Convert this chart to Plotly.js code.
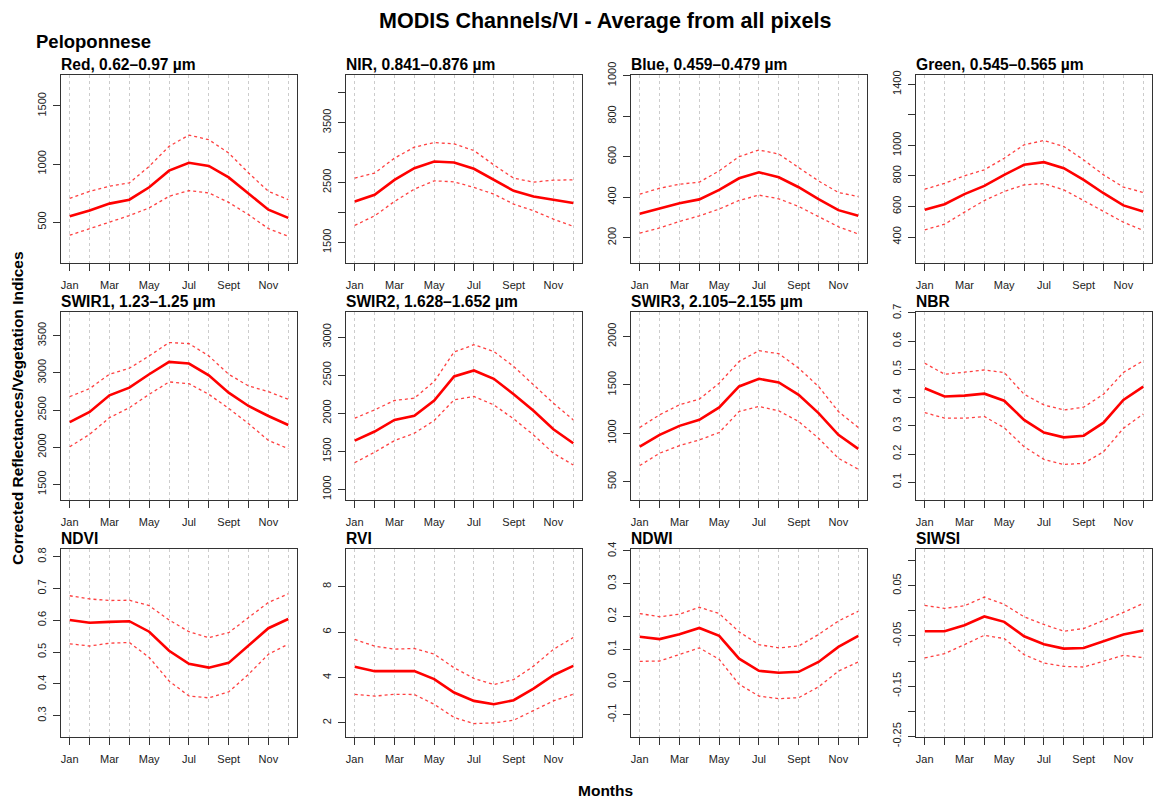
<!DOCTYPE html>
<html>
<head>
<meta charset="utf-8">
<script src="https://cdn.plot.ly/plotly-3.0.1.min.js"></script>
<style>html,body{margin:0;padding:0;background:#fff;}#chart{width:1154px;height:800px;}</style>
</head>
<body>
<div id="chart"></div>
<script>
// ---- Data ----
const months = [1,2,3,4,5,6,7,8,9,10,11,12];
const monthLabels = ['Jan','','Mar','','May','','Jul','','Sept','','Nov',''];

const panelTitles = ['Red, 0.62–0.97 µm','NIR, 0.841–0.876 µm','Blue, 0.459–0.479 µm','Green, 0.545–0.565 µm',
  'SWIR1, 1.23–1.25 µm','SWIR2, 1.628–1.652 µm','SWIR3, 2.105–2.155 µm','NBR',
  'NDVI','RVI','NDWI','SIWSI'];

const redMean  = [550,600,659,693,800,943,1011,983,885,745,607,536];
const redUpper = [705,765,808,837,980,1152,1249,1209,1095,923,765,693];
const redLower = [387,444,501,556,622,722,771,751,670,564,444,378];

const nirMean  = [2183,2294,2544,2739,2850,2833,2728,2544,2361,2267,2211,2156];
const nirUpper = [2572,2656,2906,3089,3167,3144,3033,2794,2572,2506,2539,2544];
const nirLower = [1783,1944,2183,2389,2528,2511,2417,2306,2139,2028,1889,1767];

const blueMean  = [318,343,370,389,436,493,523,498,449,390,336,308];
const blueUpper = [415,444,464,474,530,600,633,613,546,480,423,403];
const blueLower = [223,248,280,308,341,384,410,392,354,302,254,218];

const greenMean  = [578,615,681,735,807,873,890,851,774,687,607,567];
const greenUpper = [713,752,801,840,916,1004,1032,993,905,807,727,692];
const greenLower = [447,484,563,639,698,742,750,709,639,567,497,443];

const swir1Mean  = [2338,2473,2698,2801,2981,3147,3125,2967,2734,2554,2419,2298];
const swir1Upper = [2680,2788,2981,3062,3228,3408,3394,3228,2981,2824,2747,2644];
const swir1Lower = [2006,2173,2397,2531,2711,2878,2855,2711,2522,2316,2091,1979];

const swir2Mean  = [1640,1759,1912,1965,2167,2482,2561,2452,2250,2031,1789,1605];
const swir2Upper = [1934,2044,2167,2197,2417,2803,2899,2811,2614,2373,2132,1912];
const swir2Lower = [1351,1487,1640,1737,1904,2175,2219,2110,1925,1715,1474,1320];

const swir3Mean  = [862,983,1076,1138,1266,1483,1562,1524,1397,1207,983,838];
const swir3Upper = [1059,1190,1293,1352,1517,1741,1852,1821,1672,1483,1224,1059];
const swir3Lower = [666,793,872,931,1007,1224,1276,1231,1121,948,741,628];

const nbrMean  = [0.433,0.404,0.407,0.414,0.389,0.321,0.276,0.259,0.265,0.311,0.392,0.439];
const nbrUpper = [0.522,0.483,0.490,0.498,0.489,0.412,0.374,0.356,0.366,0.412,0.489,0.531];
const nbrLower = [0.347,0.327,0.327,0.333,0.293,0.226,0.181,0.163,0.167,0.208,0.291,0.342];

const ndviMean  = [0.601,0.592,0.595,0.597,0.564,0.504,0.463,0.451,0.466,0.519,0.575,0.604];
const ndviUpper = [0.677,0.667,0.662,0.663,0.646,0.601,0.564,0.545,0.561,0.608,0.656,0.683];
const ndviLower = [0.526,0.519,0.528,0.530,0.483,0.409,0.362,0.356,0.375,0.430,0.493,0.525];

const rviMean  = [4.47,4.28,4.28,4.29,3.93,3.34,2.97,2.82,3.00,3.51,4.10,4.51];
const rviUpper = [5.68,5.38,5.25,5.28,5.03,4.43,3.96,3.69,3.91,4.50,5.24,5.76];
const rviLower = [3.26,3.18,3.26,3.25,2.82,2.24,1.97,2.00,2.12,2.53,2.97,3.26];

const ndwiMean  = [0.138,0.131,0.146,0.165,0.141,0.071,0.034,0.028,0.031,0.061,0.107,0.141];
const ndwiUpper = [0.209,0.199,0.207,0.228,0.209,0.153,0.114,0.104,0.110,0.145,0.186,0.216];
const ndwiLower = [0.063,0.064,0.084,0.104,0.069,-0.007,-0.043,-0.051,-0.048,-0.015,0.033,0.061];

const siwsiMean  = [-0.0407,-0.0407,-0.0287,-0.0113,-0.022,-0.0507,-0.0667,-0.0753,-0.074,-0.0607,-0.0473,-0.0393];
const siwsiUpper = [0.0107,0.0047,0.010,0.0273,0.0127,-0.012,-0.0273,-0.0407,-0.0353,-0.020,-0.0033,0.0147];
const siwsiLower = [-0.094,-0.0853,-0.0673,-0.0487,-0.0553,-0.0873,-0.104,-0.1107,-0.112,-0.1007,-0.0887,-0.0933];

// y tick values and labels per panel
const yTickVals = [
  [500,1000,1500],
  [1500,2000,2500,3000,3500,4000],
  [200,400,600,800,1000],
  [400,600,800,1000,1200,1400],
  [1500,2000,2500,3000,3500],
  [1000,1500,2000,2500,3000],
  [500,1000,1500,2000],
  [0.1,0.2,0.3,0.4,0.5,0.6,0.7],
  [0.3,0.4,0.5,0.6,0.7,0.8],
  [2,4,6,8],
  [-0.1,0,0.1,0.2,0.3,0.4],
  [-0.25,-0.2,-0.15,-0.1,-0.05,0,0.05,0.1]
];
const yTickText = [
  ['500','1000','1500'],
  ['1500','','2500','','3500',''],
  ['200','400','600','800','1000'],
  ['400','600','800','1000','','1400'],
  ['1500','2000','2500','3000','3500'],
  ['1000','1500','2000','2500','3000'],
  ['500','1000','1500','2000'],
  ['0.1','0.2','0.3','0.4','0.5','0.6','0.7'],
  ['0.3','0.4','0.5','0.6','0.7','0.8'],
  ['2','4','6','8'],
  ['-0.1','0.0','0.1','0.2','0.3','0.4'],
  ['-0.25','','-0.15','','-0.05','','0.05','']
];

// ---- Build chart ----
const series = [
  [redMean,redUpper,redLower],[nirMean,nirUpper,nirLower],[blueMean,blueUpper,blueLower],[greenMean,greenUpper,greenLower],
  [swir1Mean,swir1Upper,swir1Lower],[swir2Mean,swir2Upper,swir2Lower],[swir3Mean,swir3Upper,swir3Lower],[nbrMean,nbrUpper,nbrLower],
  [ndviMean,ndviUpper,ndviLower],[rviMean,rviUpper,rviLower],[ndwiMean,ndwiUpper,ndwiLower],[siwsiMean,siwsiUpper,siwsiLower]
];
const yRanges = [
  [148,1766],[1156,4294],[75,1003],[230,1461],
  [1289,3819],[860,3329],[310,2252],[0.037,0.7035],
  [0.233,0.824],[1.38,9.66],[-0.168,0.406],[-0.2513,0.123]
];

const W = 1154, H = 800;
const colLeft = [61,346,631,916], panelW = 236;
const rowTop = [75,312,549], panelH = 188;
const FONT = 'Liberation Sans, Arial, sans-serif';

const traces = [];
const layout = {
  width: W, height: H,
  margin: {l:0,r:0,t:0,b:0},
  paper_bgcolor: '#fff', plot_bgcolor: '#fff',
  showlegend: false,
  font: {family: FONT, color: '#222', size: 11},
  annotations: []
};

for (let i = 0; i < 12; i++) {
  const r = Math.floor(i/4), c = i % 4;
  const n = i + 1;
  const xa = 'x' + (n === 1 ? '' : n), ya = 'y' + (n === 1 ? '' : n);
  const xkey = 'xaxis' + (n === 1 ? '' : n), ykey = 'yaxis' + (n === 1 ? '' : n);
  const [m, u, lo] = series[i];
  traces.push({x: months, y: u, xaxis: xa, yaxis: ya, mode: 'lines', line: {color: 'rgba(255,30,30,0.85)', width: 1.3, dash: 'dot'}, hoverinfo: 'skip'});
  traces.push({x: months, y: lo, xaxis: xa, yaxis: ya, mode: 'lines', line: {color: 'rgba(255,30,30,0.85)', width: 1.3, dash: 'dot'}, hoverinfo: 'skip'});
  traces.push({x: months, y: m, xaxis: xa, yaxis: ya, mode: 'lines', line: {color: '#ff0000', width: 2.6}});
  const l = colLeft[c], t = rowTop[r];
  layout[xkey] = {
    domain: [l/W, (l+panelW)/W], anchor: ya,
    range: [0.56, 12.44], tickvals: months, ticktext: monthLabels,
    ticks: 'outside', ticklen: 7, tickcolor: '#333', tickwidth: 1,
    ticklabelstandoff: 5,
    showgrid: true, gridcolor: '#cccccc', griddash: 'dot', gridwidth: 1,
    showline: true, linecolor: '#333', linewidth: 1, mirror: true,
    zeroline: false, tickfont: {size: 11, color: '#222', family: FONT}
  };
  layout[ykey] = {
    domain: [1-(t+panelH)/H, 1-t/H], anchor: xa,
    range: yRanges[i], tickvals: yTickVals[i], ticktext: yTickText[i],
    ticks: 'outside', ticklen: 7, tickcolor: '#333', tickwidth: 1,
    tickangle: -90, ticklabelstandoff: 3,
    showgrid: false, zeroline: false,
    showline: true, linecolor: '#333', linewidth: 1, mirror: true,
    tickfont: {size: 11, color: '#222', family: FONT}
  };
  layout.annotations.push({
    xref: 'paper', yref: 'paper', x: (l-1)/W, y: 1 - t/H + 1/H,
    xanchor: 'left', yanchor: 'bottom', showarrow: false,
    text: '<b>' + panelTitles[i] + '</b>',
    font: {size: 15.6, color: '#000', family: FONT}, borderpad: 0
  });
}

layout.annotations.push({
  xref: 'paper', yref: 'paper', x: 605/W, y: 1 - 21/H, xanchor: 'center', yanchor: 'middle',
  showarrow: false, text: '<b>MODIS Channels/VI - Average from all pixels</b>',
  font: {size: 21.5, color: '#000', family: FONT}
});
layout.annotations.push({
  xref: 'paper', yref: 'paper', x: 34/W, y: 1 - 42/H, xanchor: 'left', yanchor: 'middle',
  showarrow: false, text: '<b>Peloponnese</b>',
  font: {size: 18.5, color: '#000', family: FONT}
});
layout.annotations.push({
  xref: 'paper', yref: 'paper', x: 17/W, y: 1 - 408/H, xanchor: 'center', yanchor: 'middle',
  showarrow: false, textangle: -90, text: '<b>Corrected Reflectances/Vegetation Indices</b>',
  font: {size: 15.5, color: '#000', family: FONT}
});
layout.annotations.push({
  xref: 'paper', yref: 'paper', x: 605/W, y: 1 - 790/H, xanchor: 'center', yanchor: 'middle',
  showarrow: false, text: '<b>Months</b>',
  font: {size: 15.5, color: '#000', family: FONT}
});

Plotly.newPlot('chart', traces, layout, {displayModeBar: false, staticPlot: true});
</script>
</body>
</html>
